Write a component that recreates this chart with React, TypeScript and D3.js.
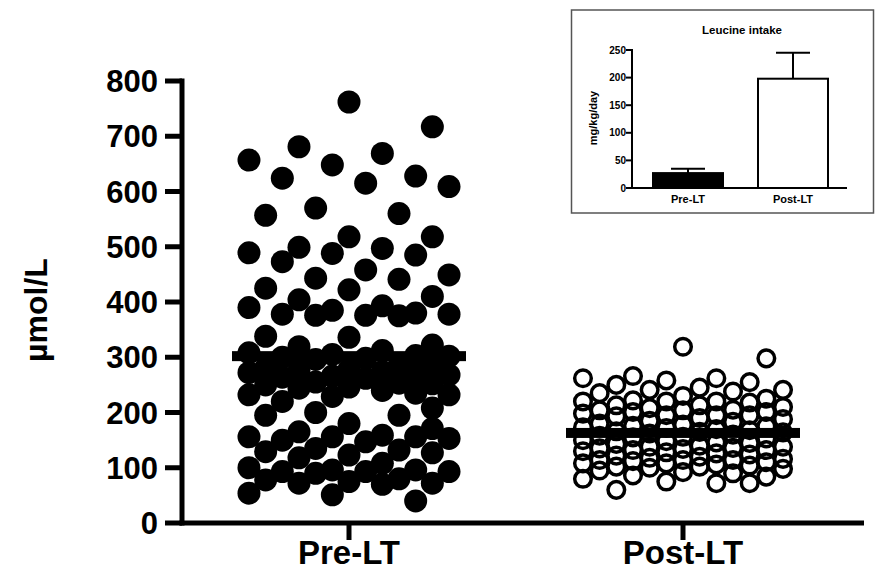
import React from "react";
import * as d3 from "d3";

// ---------- Main chart data ----------
const categories = ["Pre-LT", "Post-LT"];
const preLT = [
  762, 717, 681, 669, 657, 648, 628, 624, 615, 609, 570, 560, 557, 518, 518, 499, 497, 489, 488, 485,
  473, 458, 449, 443, 441, 425, 422, 410, 404, 393, 390, 385, 380, 378, 378, 376, 376, 375, 338, 336,
  322, 319, 312, 305, 302, 300, 298, 296, 303, 308,
  285, 282, 280, 278, 276, 274, 272, 270, 268, 266, 264, 262,
  255, 253, 252, 250, 246, 244, 240, 235, 232, 232, 229, 220,
  208, 200, 195, 195,
  180, 171, 165, 159, 156, 156, 156, 153, 150, 147,
  135, 132, 129, 127, 123, 118,
  108, 100, 96, 96, 93, 93, 93, 90,
  80, 78, 75, 72, 72, 70,
  54, 51, 40,
];
const postLT = [
  319, 298, 266, 262, 262, 258, 255, 250, 245, 241, 241, 238, 235, 230, 225, 222, 220, 220, 220, 218,
  213, 213, 210, 208, 205, 204, 204, 201, 201, 198, 195, 195, 195, 193, 190, 188, 185, 183, 180, 178,
  176, 175, 173, 172, 170, 168, 166, 165, 164, 162, 160, 158, 156, 155, 153, 150, 148, 146, 145, 143,
  140, 138, 138, 136, 135, 134, 132, 132, 130, 128, 126, 124, 122, 120, 118, 116, 114, 114, 114, 112,
  110, 108, 108, 106, 104, 102, 102, 100, 98, 95, 92, 90, 86, 84, 80, 75, 72, 72, 60,
];
const groupMeans = [302, 163];
const yTicks = [0, 100, 200, 300, 400, 500, 600, 700, 800];

// ---------- Inset data ----------
const insetTitle = "Leucine intake";
const insetCategories = ["Pre-LT", "Post-LT"];
const insetMeans = [27, 198];
const insetErrors = [8, 47];
const insetTicks = [0, 50, 100, 150, 200, 250];

const FONT = "'Liberation Sans', Arial, Helvetica, sans-serif";

type Pt = { x: number; y: number };

function swarm(values: number[], y: (v: number) => number, cx: number, step: number, nSlots: number, minDist: number): Pt[] {
  const order = values.map((v, i) => ({ v, i })).sort((a, b) => b.v - a.v);
  const placed: Pt[] = [];
  const out: Pt[] = new Array(values.length);
  const nTot = 2 * nSlots + 1;
  order.forEach((p, n) => {
    const yy = y(p.v);
    const target = ((n * 5 + nSlots) % nTot) - nSlots;
    let best: Pt = { x: cx, y: yy };
    let bestScore = -Infinity;
    for (let k = -nSlots; k <= nSlots; k++) {
      const x = cx + k * step;
      let md = Infinity;
      for (const q of placed) {
        const d = Math.hypot(q.x - x, q.y - yy);
        if (d < md) md = d;
      }
      const score = md >= minDist ? 1000 - Math.abs(k - target) : md;
      if (score > bestScore) {
        bestScore = score;
        best = { x, y: yy };
      }
    }
    placed.push(best);
    out[p.i] = best;
  });
  return out;
}

export default function App() {
  const y = d3.scaleLinear().domain([0, 800]).range([523, 81]);
  const x = d3.scalePoint<string>().domain(categories).range([349, 683]);
  const axisX = 182;
  const axisY = y(0);

  const prePts = swarm(preLT, y, x("Pre-LT")!, 16.67, 6, 20);
  const postPts = swarm(postLT, y, x("Post-LT")!, 16.67, 6, 17);

  // inset
  const iy = d3.scaleLinear().domain([0, 250]).range([188, 50]);
  const ix = d3.scalePoint<string>().domain(insetCategories).range([688, 793]);
  const iAxisX = 632;
  const barW = 70;
  const capW = 34;

  return (
    <svg width={876} height={571} style={{ position: "absolute", left: 0, top: 0, background: "#fff" }} fontFamily={FONT}>
      <rect x={0} y={0} width={876} height={571} fill="#fff" />
      {/* dots */}
      {prePts.map((p, i) => (
        <circle key={"pre" + i} cx={p.x} cy={p.y} r={11.5} fill="#000" />
      ))}
      {postPts.map((p, i) => (
        <circle key={"post" + i} cx={p.x} cy={p.y} r={8.3} fill="none" stroke="#000" strokeWidth={3.5} />
      ))}
      {/* mean bars */}
      {categories.map((c, i) => (
        <rect key={"m" + c} x={x(c)! - 117} y={y(groupMeans[i]) - 5} width={234} height={10} fill="#000" />
      ))}
      {/* axes */}
      <line x1={axisX} x2={axisX} y1={y(800) - 2.5} y2={axisY + 2.5} stroke="#000" strokeWidth={5} />
      <line x1={axisX - 2.5} x2={864} y1={axisY} y2={axisY} stroke="#000" strokeWidth={5} />
      {yTicks.map((t) => (
        <g key={"yt" + t}>
          <line x1={165} x2={axisX} y1={y(t)} y2={y(t)} stroke="#000" strokeWidth={5} />
          <text x={158} y={y(t) + 11} textAnchor="end" fontSize={31} fontWeight="bold">
            {t}
          </text>
        </g>
      ))}
      {categories.map((c) => (
        <g key={"xt" + c}>
          <line x1={x(c)} x2={x(c)} y1={axisY} y2={axisY + 17} stroke="#000" strokeWidth={5} />
          <text x={x(c)} y={564} textAnchor="middle" fontSize={33} fontWeight="bold">
            {c}
          </text>
        </g>
      ))}
      <text transform="translate(47,310) rotate(-90)" textAnchor="middle" fontSize={32} fontWeight="bold">
        µmol/L
      </text>

      {/* inset */}
      <rect x={571.5} y={10} width={302} height={203} fill="#fff" stroke="#555" strokeWidth={1.5} />
      <text x={742} y={34} textAnchor="middle" fontSize={11.5} fontWeight="bold">
        {insetTitle}
      </text>
      {insetCategories.map((c, i) => {
        const cx = ix(c)!;
        const top = iy(insetMeans[i]);
        const et = iy(insetMeans[i] + insetErrors[i]);
        return (
          <g key={"ib" + c}>
            <line x1={cx} x2={cx} y1={top} y2={et} stroke="#000" strokeWidth={2} />
            <line x1={cx - capW / 2} x2={cx + capW / 2} y1={et} y2={et} stroke="#000" strokeWidth={2} />
            <rect
              x={cx - barW / 2}
              y={top}
              width={barW}
              height={iy(0) - top}
              fill={i === 0 ? "#000" : "#fff"}
              stroke="#000"
              strokeWidth={2}
            />
            <text x={cx} y={203} textAnchor="middle" fontSize={11} fontWeight="bold">
              {c}
            </text>
          </g>
        );
      })}
      <line x1={iAxisX} x2={iAxisX} y1={iy(250) - 1} y2={iy(0) + 1} stroke="#000" strokeWidth={2} />
      <line x1={iAxisX - 1} x2={847} y1={iy(0)} y2={iy(0)} stroke="#000" strokeWidth={2} />
      {insetTicks.map((t) => (
        <g key={"it" + t}>
          <line x1={iAxisX - 6} x2={iAxisX} y1={iy(t)} y2={iy(t)} stroke="#000" strokeWidth={2} />
          <text x={iAxisX - 6} y={iy(t) + 3.5} textAnchor="end" fontSize={10} fontWeight="bold">
            {t}
          </text>
        </g>
      ))}
      <text transform="translate(597,118) rotate(-90)" textAnchor="middle" fontSize={11} fontWeight="bold">
        mg/kg/day
      </text>
    </svg>
  );
}
